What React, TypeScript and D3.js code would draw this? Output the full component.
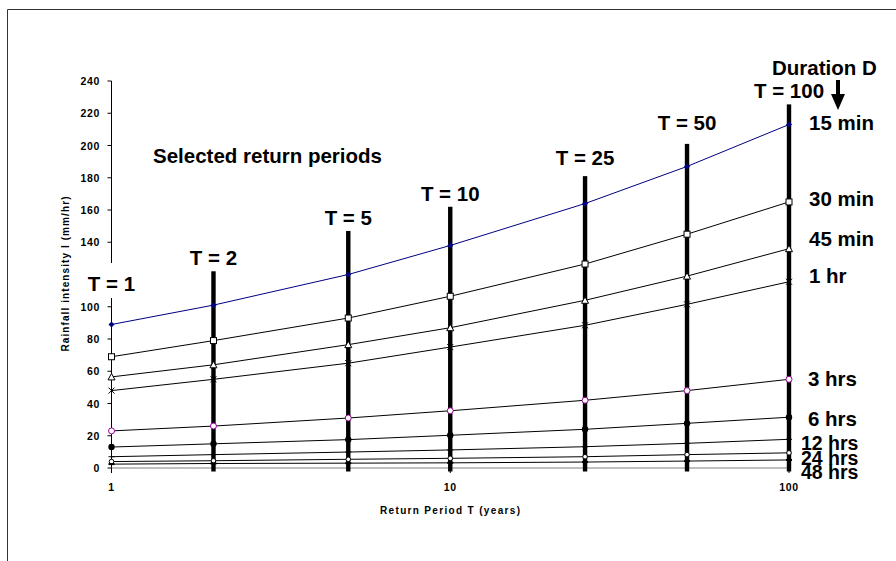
import React from 'react';
import * as d3 from 'd3';

// Return periods (years) on the log x axis
const returnPeriods = [1, 2, 5, 10, 25, 50, 100];

// Rainfall intensity (mm/hr) per duration
const durations = ['15 min', '30 min', '45 min', '1 hr', '3 hrs', '6 hrs', '12 hrs', '24 hrs', '48 hrs'];
const i15min = [89, 101, 120, 138, 164, 187, 213];
const i30min = [69, 79, 93, 106.5, 126.5, 145, 165];
const i45min = [56.5, 64, 76.5, 87, 104, 119, 136];
const i1hr = [48, 55, 65, 75, 88.5, 101.5, 115.5];
const i3hrs = [23, 26, 31, 35.5, 42, 48, 55];
const i6hrs = [13, 15, 17.6, 20.3, 24, 27.7, 31.5];
const i12hrs = [7, 8.3, 9.9, 11.2, 13.2, 15.3, 17.8];
const i24hrs = [4, 4.5, 5.4, 6, 7, 8.3, 9.4];
const i48hrs = [2.4, 2.8, 3, 3.2, 3.7, 4.3, 5];

// Selected return periods marked with thick bars (top in mm/hr)
const selectedT = [1, 2, 5, 10, 25, 50, 100];
const selectedTop = [106, 122, 147, 162, 181, 201, 225.5];

const yTicks = [0, 20, 40, 60, 80, 100, 140, 160, 180, 200, 220, 240];
const xTicks = [1, 10, 100];

const font = '"Liberation Sans", Arial, Helvetica, sans-serif';

type Marker = 'diamond' | 'square' | 'triangle' | 'x' | 'ring' | 'dot' | 'plus' | 'smallring' | 'dash';

const seriesStyle: { values: number[]; line: string; marker: Marker; mColor: string; labelY: number; labelX: number; size: number }[] = [
  { values: i15min, line: '#000080', marker: 'diamond', mColor: '#000080', labelY: 122, labelX: 809, size: 20.5 },
  { values: i30min, line: '#000', marker: 'square', mColor: '#000', labelY: 198, labelX: 809, size: 20.5 },
  { values: i45min, line: '#000', marker: 'triangle', mColor: '#000', labelY: 238, labelX: 809, size: 20.5 },
  { values: i1hr, line: '#000', marker: 'x', mColor: '#000', labelY: 275, labelX: 809, size: 20.5 },
  { values: i3hrs, line: '#000', marker: 'ring', mColor: '#990099', labelY: 378, labelX: 808, size: 20.5 },
  { values: i6hrs, line: '#000', marker: 'dot', mColor: '#000', labelY: 418, labelX: 808, size: 20.5 },
  { values: i12hrs, line: '#000', marker: 'plus', mColor: '#000', labelY: 443, labelX: 801, size: 19.5 },
  { values: i24hrs, line: '#000', marker: 'smallring', mColor: '#000', labelY: 458, labelX: 801, size: 19.5 },
  { values: i48hrs, line: '#000', marker: 'dash', mColor: '#000', labelY: 472, labelX: 801, size: 19.5 },
];

// pixel gap between bar top and its T label
const labelGap = [14, 14, 13, 13, 19, 21, 14];

const drawMarker = (m: Marker, cx: number, cy: number, c: string, key: string) => {
  switch (m) {
    case 'diamond':
      return <path key={key} d={`M${cx},${cy - 3}L${cx + 3},${cy}L${cx},${cy + 3}L${cx - 3},${cy}Z`} fill={c} />;
    case 'square':
      return <rect key={key} x={cx - 3} y={cy - 3} width={6} height={6} fill="#fff" stroke={c} strokeWidth={1} />;
    case 'triangle':
      return <path key={key} d={`M${cx},${cy - 3.5}L${cx + 3.5},${cy + 3}L${cx - 3.5},${cy + 3}Z`} fill="#fff" stroke={c} strokeWidth={1} />;
    case 'x':
      return <path key={key} d={`M${cx - 3},${cy - 3}L${cx + 3},${cy + 3}M${cx - 3},${cy + 3}L${cx + 3},${cy - 3}`} stroke={c} strokeWidth={1} />;
    case 'ring':
      return <circle key={key} cx={cx} cy={cy} r={3} fill="#fff" stroke={c} strokeWidth={1} />;
    case 'dot':
      return <circle key={key} cx={cx} cy={cy} r={3.2} fill={c} />;
    case 'plus':
      return <path key={key} d={`M${cx - 3},${cy}L${cx + 3},${cy}M${cx},${cy - 3}L${cx},${cy + 3}`} stroke={c} strokeWidth={1} />;
    case 'smallring':
      return <circle key={key} cx={cx} cy={cy} r={2.3} fill="#fff" stroke={c} strokeWidth={1} />;
    case 'dash':
      return <rect key={key} x={cx - 3} y={cy - 1} width={6} height={2} fill={c} />;
  }
};

const App = () => {
  const x = d3.scaleLog().domain([1, 100]).range([111.5, 789]);
  const y = d3.scaleLinear().domain([0, 240]).range([468, 81]);

  const line = d3
    .line<number>()
    .x((_, i) => x(returnPeriods[i]))
    .y((d) => y(d));

  const x0 = x(1);
  const y0 = y(0);

  return (
    <svg width={896} height={561} style={{ position: 'absolute', left: 0, top: 0, background: '#fff' }} fontFamily={font}>
      {/* chart frame */}
      <path d="M7.5,561V9.5H896" fill="none" stroke="#333" strokeWidth={1} />

      {/* y axis */}
      <line x1={x0} x2={x0} y1={y(240)} y2={y0 + 4} stroke="#000" />
      {yTicks.map((t) => (
        <g key={t}>
          <line x1={x0 - 4} x2={x0} y1={y(t)} y2={y(t)} stroke="#000" />
          <text x={100} y={y(t)} textAnchor="end" dominantBaseline="central" fontSize={10.5} fontWeight="bold" letterSpacing={0.7}>
            {t}
          </text>
        </g>
      ))}

      {/* x axis */}
      <line x1={x0} x2={x(100)} y1={y0} y2={y0} stroke="#808080" />
      {xTicks.map((t) => (
        <g key={t}>
          <line x1={x(t)} x2={x(t)} y1={y0} y2={y0 + 5} stroke="#000" />
          <text x={x(t)} y={487} textAnchor="middle" dominantBaseline="central" fontSize={10.5} fontWeight="bold" letterSpacing={0.7}>
            {t}
          </text>
        </g>
      ))}

      {/* axis titles */}
      <text
        transform="translate(65,274) rotate(-90)"
        textAnchor="middle"
        dominantBaseline="central"
        fontSize={10}
        fontWeight="bold"
        textLength={155}
        lengthAdjust="spacing"
      >
        Rainfall intensity I (mm/hr)
      </text>
      <text x={450} y={510} textAnchor="middle" dominantBaseline="central" fontSize={10} fontWeight="bold" textLength={140} lengthAdjust="spacing">
        Return Period T (years)
      </text>

      {/* selected return period bars */}
      {selectedT.map((t, i) =>
        i === 0 ? null : (
          <rect key={t} x={x(t) - 2.2} y={y(selectedTop[i])} width={4.4} height={y0 + 3.5 - y(selectedTop[i])} fill="#000" />
        )
      )}

      {/* series */}
      {seriesStyle.map((s, si) => (
        <g key={durations[si]}>
          <path d={line(s.values) || ''} fill="none" stroke={s.line} strokeWidth={1} />
          {s.values.map((v, i) => drawMarker(s.marker, x(returnPeriods[i]), y(v), s.mColor, `${si}-${i}`))}
        </g>
      ))}

      {/* T labels */}
      <rect x={76} y={263} width={68} height={35} fill="#fff" />
      {selectedT.map((t, i) => (
        <text
          key={t}
          x={x(t)}
          y={y(selectedTop[i]) - labelGap[i]}
          textAnchor="middle"
          dominantBaseline="central"
          fontSize={20.5}
          fontWeight="bold"
        >
          {`T = ${t}`}
        </text>
      ))}

      <text x={153} y={155} dominantBaseline="central" fontSize={20.5} fontWeight="bold">
        Selected return periods
      </text>

      {/* duration labels */}
      {seriesStyle.map((s, si) => (
        <text key={durations[si]} x={s.labelX} y={s.labelY} dominantBaseline="central" fontSize={s.size} fontWeight="bold">
          {durations[si]}
        </text>
      ))}

      <text x={772} y={67} dominantBaseline="central" fontSize={20.5} fontWeight="bold">
        Duration D
      </text>
      <path d="M836,80H840V94H845L838,110L831,94H836Z" fill="#000" />
    </svg>
  );
};

export default App;
